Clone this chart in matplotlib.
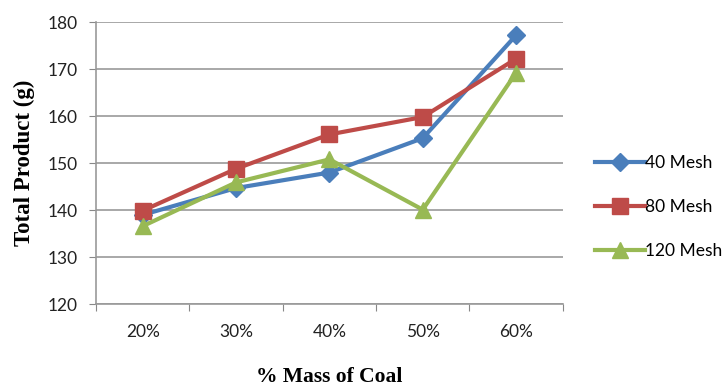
import matplotlib
matplotlib.use("Agg")
import matplotlib.pyplot as plt
import numpy as np

# total product for each coal fraction, per mesh size
coal_mass = ["20%", "30%", "40%", "50%", "60%"]
mesh_40 = [139.0, 144.7, 148.0, 155.3, 177.2]
mesh_80 = [139.9, 148.8, 156.1, 159.8, 172.2]
mesh_120 = [136.6, 145.9, 150.8, 140.1, 169.2]
series_names = ["40 Mesh", "80 Mesh", "120 Mesh"]
y_ticks = [120, 130, 140, 150, 160, 170, 180]

plt.rcParams["font.family"] = ["Lato", "DejaVu Sans"]

fig = plt.figure(figsize=(7.28, 3.87), dpi=100)
ax = fig.add_axes([0.132, 0.214, 0.641, 0.729])

x = np.arange(len(coal_mass)) + 0.5
styles = [("#4A7EBB", "D", 9), ("#BE4B48", "s", 11), ("#98B954", "^", 11)]
for vals, name, (col, mk, ms) in zip([mesh_40, mesh_80, mesh_120], series_names, styles):
    ax.plot(x, vals, color=col, lw=3, marker=mk, markersize=ms, label=name)

ax.set_xlim(0, len(coal_mass))
ax.set_ylim(120, 180)
ax.set_yticks(y_ticks)
ax.set_xticks(np.arange(len(coal_mass) + 1))
ax.set_xticklabels([])
ax.set_xticks(x, minor=True)
ax.set_xticklabels(coal_mass, minor=True)
ax.tick_params(axis="x", which="minor", length=0, pad=14)
ax.tick_params(axis="x", which="major", length=5, direction="out", color="#888888")
ax.tick_params(axis="y", length=5, direction="out", color="#888888", pad=8)
for lab in ax.get_xticklabels(minor=True) + ax.get_yticklabels():
    lab.set_fontsize(12.5)
    lab.set_color("#222222")

ax.grid(axis="y", color="#999999", lw=1.2)
ax.set_axisbelow(True)
for s in ["top", "right"]:
    ax.spines[s].set_visible(False)
for s in ["left", "bottom"]:
    ax.spines[s].set_color("#999999")
    ax.spines[s].set_linewidth(1.2)

ax.set_ylabel("Total Product (g)", family="Liberation Serif", fontweight="bold",
              fontsize=16.5, labelpad=9)
ax.set_xlabel("% Mass of Coal", family="Liberation Serif", fontweight="bold",
              fontsize=15.5, labelpad=20)

ax.legend(loc="center left", bbox_to_anchor=(1.035, 0.345), frameon=False,
          fontsize=12.5, handlelength=2.9, handletextpad=0.0, labelspacing=1.6)

fig.savefig("out.png", dpi=100)
